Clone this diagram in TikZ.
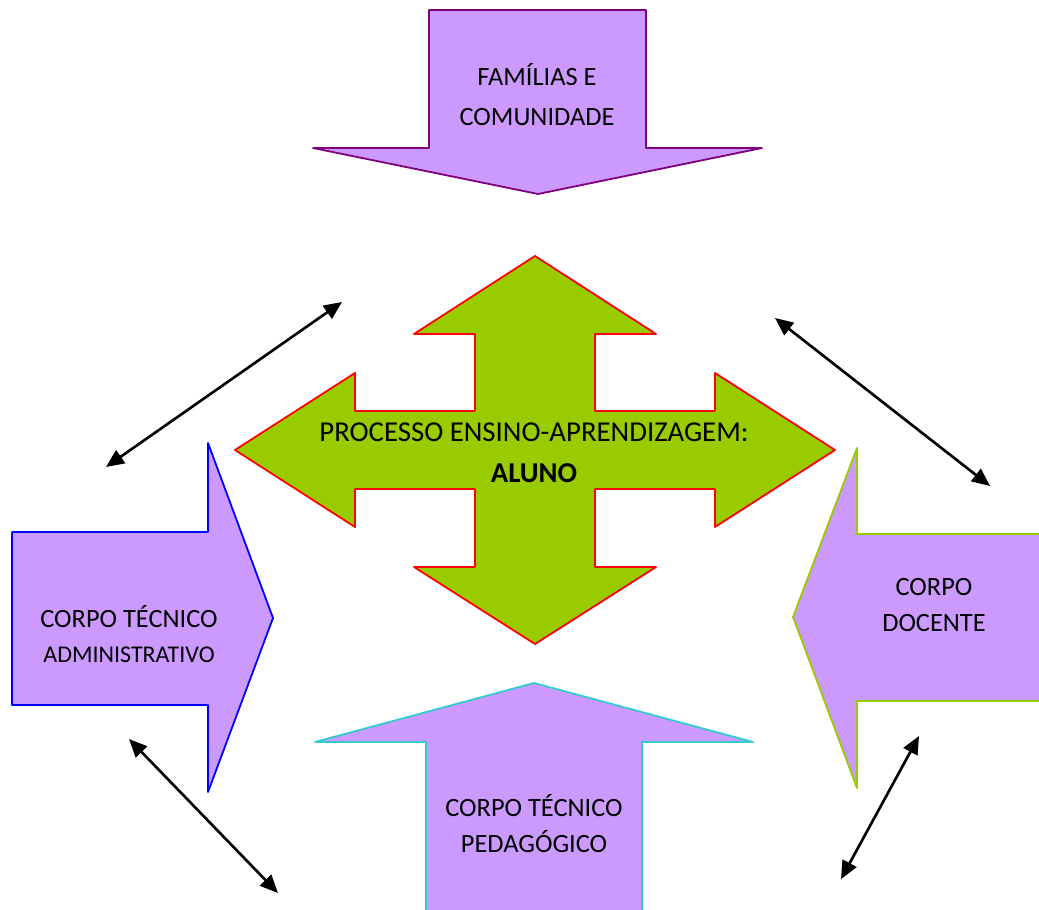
\documentclass[tikz,border=0pt]{standalone}
\usepackage{fontspec}
\setmainfont{Carlito}
\usetikzlibrary{arrows.meta}
\definecolor{lilac}{HTML}{CC99FF}
\definecolor{leaf}{HTML}{99CC00}
\definecolor{plum}{HTML}{800080}
\definecolor{turq}{HTML}{33CCCC}
\tikzset{
  shapebox/.style={line width=0.75pt, line join=round},
  label11/.style={align=center, inner sep=0pt, font=\fontsize{11}{15}\selectfont},
  link/.style={line width=1.1pt, {Triangle[length=7.5pt,width=6.5pt]}-{Triangle[length=7.5pt,width=6.5pt]}}
}
\begin{document}
\begin{tikzpicture}[x=0.41667pt,y=-0.41667pt]
\useasboundingbox (0,0) rectangle (1039,910);
\clip (0,0) rectangle (1039,910);
% top arrow
\draw[shapebox, fill=lilac, draw=plum] (429,10) -- (646,10) -- (646,148) -- (762,148) -- (538,194) -- (313,148) -- (429,148) -- cycle;
% central four-way arrow
\draw[shapebox, fill=leaf, draw=red] (535,256) -- (656,334) -- (595,334) -- (595,411) -- (715,411) -- (715,373) -- (835,450)
  -- (715,527) -- (715,489) -- (595,489) -- (595,567) -- (656,567) -- (535,644) -- (414,567) -- (475,567) -- (475,489)
  -- (355,489) -- (355,527) -- (235,450) -- (355,373) -- (355,411) -- (475,411) -- (475,334) -- (414,334) -- cycle;
% left arrow
\draw[shapebox, fill=lilac, draw=blue] (12,532) -- (208,532) -- (208,443) -- (273,618) -- (208,792) -- (208,705) -- (12,705) -- cycle;
% right arrow
\draw[shapebox, fill=lilac, draw=leaf] (1050,534) -- (857,534) -- (857,448) -- (793,617) -- (857,788) -- (857,701) -- (1050,701);
% bottom arrow
\draw[shapebox, fill=lilac, draw=turq] (426,920) -- (426,742) -- (315,742) -- (534,683) -- (753,742) -- (642,742) -- (642,920);
% labels
\node[label11, font=\fontsize{11}{16.7}\selectfont] (fam) at (537,95) {FAMÍLIAS E\\COMUNIDADE};
\node[align=center, inner sep=0pt, font=\fontsize{12}{17}\selectfont] (alu) at (534,453) {PROCESSO ENSINO-APRENDIZAGEM:\\\textbf{ALUNO}};
\node[align=center, inner sep=0pt, font=\fontsize{11}{14.6}\selectfont] (adm) at (129,634) {CORPO TÉCNICO\\{\fontsize{10}{12}\selectfont ADMINISTRATIVO}};
\node[label11, font=\fontsize{11}{15.4}\selectfont] (doc) at (934,605) {CORPO\\DOCENTE};
\node[label11, font=\fontsize{11}{15}\selectfont] (ped) at (534,824) {CORPO TÉCNICO\\PEDAGÓGICO};
% double arrows
\coordinate (a1) at (106,467); \coordinate (a2) at (342,302);
\coordinate (b1) at (775,318); \coordinate (b2) at (990,486);
\coordinate (c1) at (129,739); \coordinate (c2) at (278,893);
\coordinate (d1) at (919,736); \coordinate (d2) at (841,879);
\draw[link] (a1) -- (a2);
\draw[link] (b1) -- (b2);
\draw[link] (c1) -- (c2);
\draw[link] (d1) -- (d2);
\end{tikzpicture}
\end{document}
